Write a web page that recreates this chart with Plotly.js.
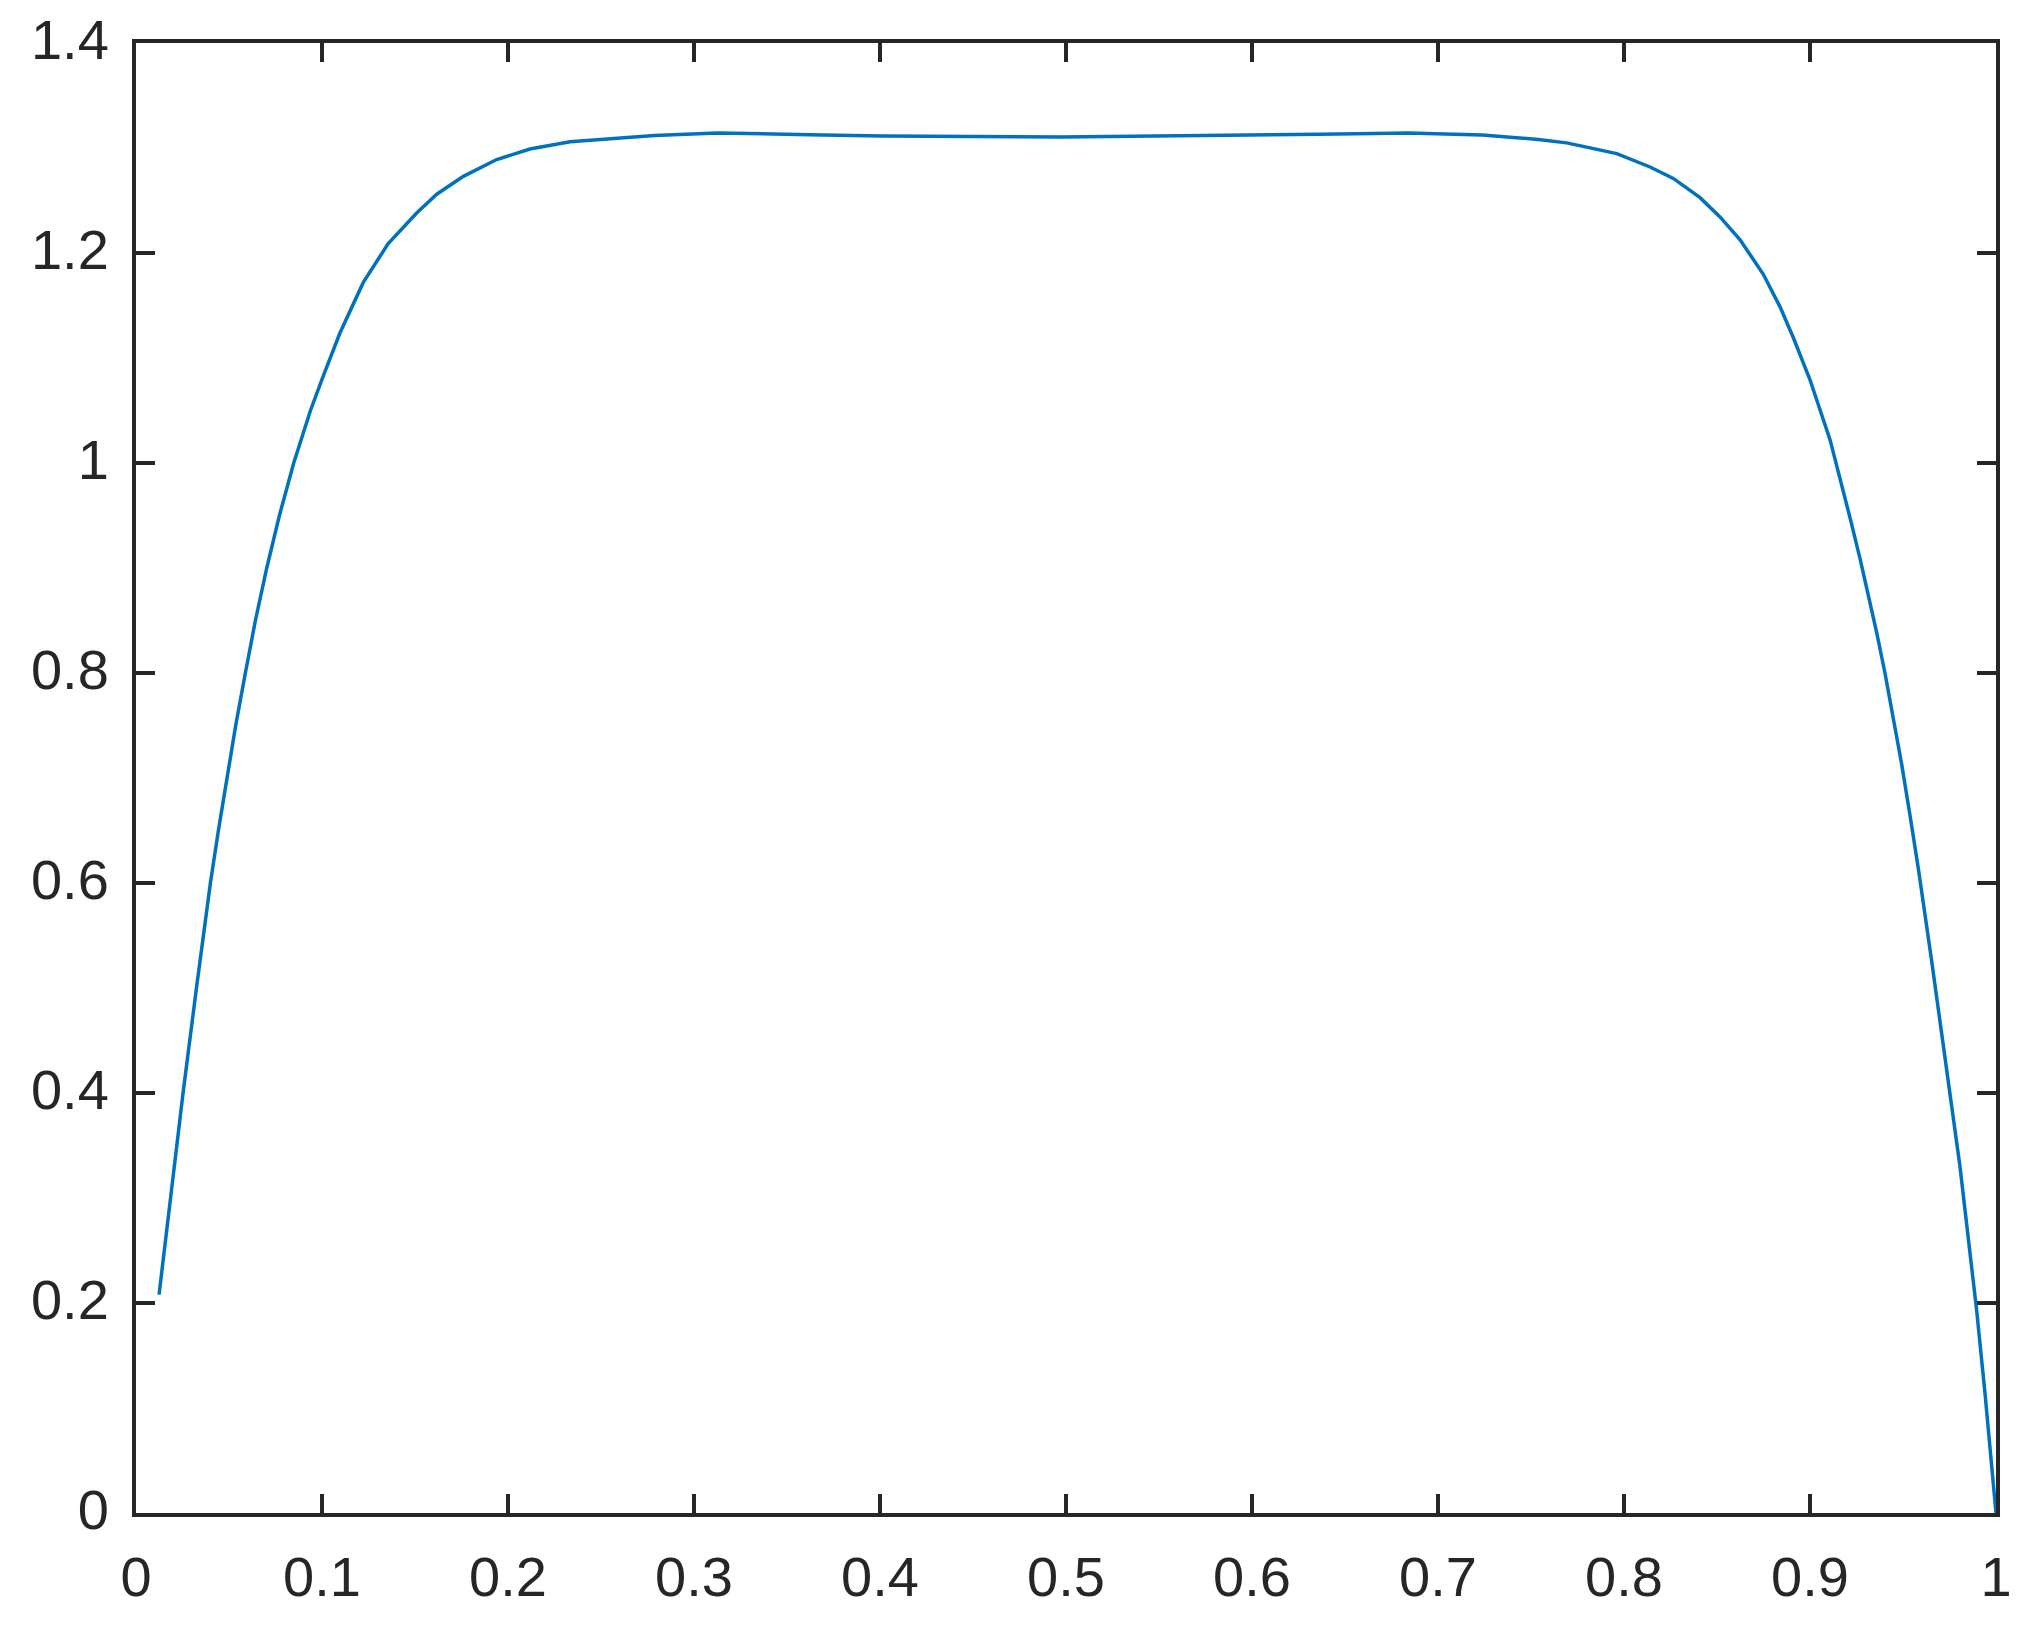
<!DOCTYPE html>
<html>
<head>
<meta charset="utf-8">
<script src="https://cdn.plot.ly/plotly-3.0.1.min.js"></script>
<style>
  html, body { margin: 0; padding: 0; background: #fff; }
  #chart { width: 2025px; height: 1641px; }
</style>
</head>
<body>
<div id="chart"></div>
<script>
// values
var xVals = [0.0124, 0.0185, 0.0253, 0.0325, 0.0400, 0.0443, 0.0488, 0.0536, 0.0588,
  0.0642, 0.0703, 0.0771, 0.0848, 0.0938, 0.1007, 0.1097, 0.1222, 0.1356, 0.1509,
  0.1617, 0.1760, 0.1939, 0.2118, 0.2334, 0.2787, 0.3126, 0.3617, 0.4012, 0.4974,
  0.5955, 0.6370, 0.6841, 0.7237, 0.7539, 0.7692, 0.7961, 0.8140, 0.8265, 0.8409,
  0.8516, 0.8624, 0.8749, 0.8839, 0.8910, 0.9000, 0.9108, 0.9161, 0.9215, 0.9269,
  0.9314, 0.9358, 0.9403, 0.9448, 0.9493, 0.9538, 0.9584, 0.9654, 0.9708, 0.9762,
  0.9806, 0.9851, 0.9896, 0.9941, 0.9971, 1.0];
var yVals = [0.208, 0.300, 0.400, 0.500, 0.600, 0.650, 0.700, 0.750, 0.800,
  0.850, 0.900, 0.950, 1.000, 1.050, 1.083, 1.124, 1.172, 1.209, 1.238,
  1.256, 1.273, 1.289, 1.299, 1.306, 1.312, 1.3143, 1.3127, 1.3114, 1.3105,
  1.3117, 1.313, 1.3143, 1.3124, 1.3082, 1.3049, 1.2947, 1.2819, 1.2710, 1.2527,
  1.2344, 1.2126, 1.1797, 1.1487, 1.1195, 1.0793, 1.022, 0.986, 0.948, 0.909,
  0.875, 0.839, 0.800, 0.757, 0.713, 0.664, 0.612, 0.526, 0.4572, 0.3886,
  0.3304, 0.2617, 0.1930, 0.1137, 0.0555, 0.0];

var xTicks = [0, 0.1, 0.2, 0.3, 0.4, 0.5, 0.6, 0.7, 0.8, 0.9, 1];
var yTicks = [0, 0.2, 0.4, 0.6, 0.8, 1, 1.2, 1.4];

var ink = '#262626';

var trace = {
  x: xVals,
  y: yVals,
  type: 'scatter',
  mode: 'lines',
  line: {color: '#0072BD', width: 3.5}
};

function axisStyle(vals, range) {
  return {
    range: range,
    tickmode: 'array',
    tickvals: vals,
    ticktext: vals.map(String),
    showgrid: false,
    zeroline: false,
    showline: true,
    linecolor: ink,
    linewidth: 4,
    mirror: 'ticks',
    ticks: 'inside',
    ticklen: 19,
    tickwidth: 4,
    tickcolor: ink,
    tickfont: {family: '"Liberation Sans", Arial, Helvetica, sans-serif', size: 56, color: ink}
  };
}

var xaxis = axisStyle(xTicks, [0, 1]);
xaxis.ticklabelstandoff = 12;
var yaxis = axisStyle(yTicks, [0, 1.4]);
yaxis.ticklabelstandoff = 12;
yaxis.ticklabelshift = -4;

var layout = {
  width: 2025,
  height: 1641,
  margin: {l: 136, r: 29, t: 43, b: 128},
  paper_bgcolor: '#ffffff',
  plot_bgcolor: '#ffffff',
  showlegend: false,
  xaxis: xaxis,
  yaxis: yaxis
};

Plotly.newPlot('chart', [trace], layout, {displayModeBar: false, staticPlot: true});
</script>
</body>
</html>
